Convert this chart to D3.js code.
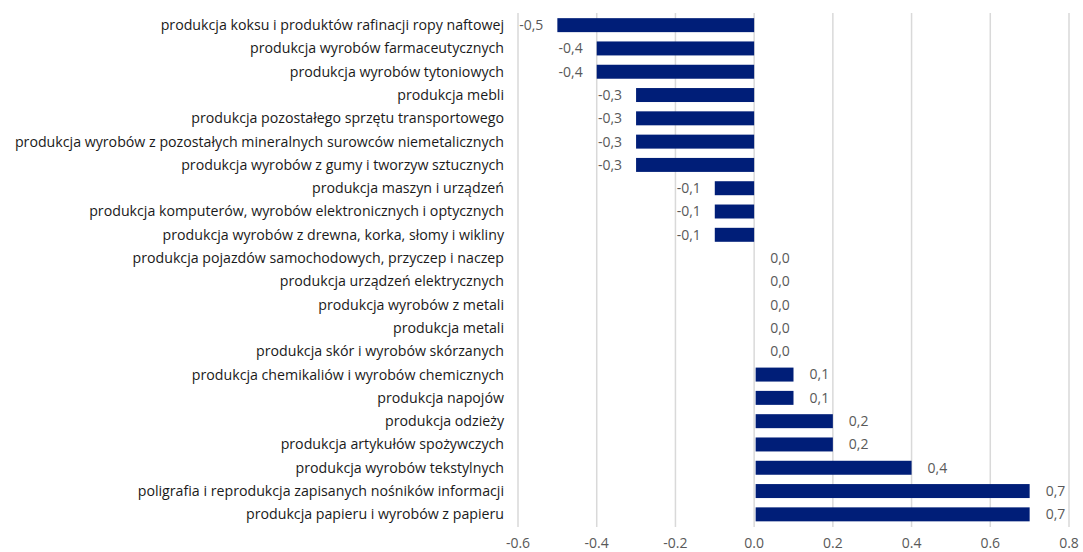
<!DOCTYPE html>
<html>
<head>
  <meta charset="utf-8">
  <script src="https://d3js.org/d3.v7.min.js"></script>
  <style>
    body { margin: 0; background: #fff; }
    text { font-family: "Open Sans", sans-serif; }
  </style>
</head>
<body>
  <script>
    // categories, top to bottom
    var categories = [
      "produkcja koksu i produktów rafinacji ropy naftowej",
      "produkcja wyrobów farmaceutycznych",
      "produkcja wyrobów tytoniowych",
      "produkcja mebli",
      "produkcja pozostałego sprzętu transportowego",
      "produkcja wyrobów z pozostałych mineralnych surowców niemetalicznych",
      "produkcja wyrobów z gumy i tworzyw sztucznych",
      "produkcja maszyn i urządzeń",
      "produkcja komputerów, wyrobów elektronicznych i optycznych",
      "produkcja wyrobów z drewna, korka, słomy i wikliny",
      "produkcja pojazdów samochodowych, przyczep i naczep",
      "produkcja urządzeń elektrycznych",
      "produkcja wyrobów z metali",
      "produkcja metali",
      "produkcja skór i wyrobów skórzanych",
      "produkcja chemikaliów i wyrobów chemicznych",
      "produkcja napojów",
      "produkcja odzieży",
      "produkcja artykułów spożywczych",
      "produkcja wyrobów tekstylnych",
      "poligrafia i reprodukcja zapisanych nośników informacji",
      "produkcja papieru i wyrobów z papieru"
    ];
    var values = [-0.5, -0.4, -0.4, -0.3, -0.3, -0.3, -0.3, -0.1, -0.1, -0.1,
                  0.0, 0.0, 0.0, 0.0, 0.0, 0.1, 0.1, 0.2, 0.2, 0.4, 0.7, 0.7];
    var xTicks = [-0.6, -0.4, -0.2, 0.0, 0.2, 0.4, 0.6, 0.8];

    var W = 1083, H = 552;
    var svg = d3.select("body").append("svg").attr("width", W).attr("height", H);

    var x = d3.scaleLinear().domain([-0.6, 0.8]).range([518, 1069]);
    var y = d3.scaleBand().domain(categories).range([13.5, 526]).paddingInner(0.4).paddingOuter(0.2);

    // gridlines
    svg.append("g").selectAll("line").data(xTicks).enter().append("line")
      .attr("x1", function (d) { return x(d); })
      .attr("x2", function (d) { return x(d); })
      .attr("y1", 13).attr("y2", 527)
      .attr("stroke", "#d9d9d9").attr("stroke-width", 1.5);

    // tick labels (x axis)
    svg.append("g").selectAll("text").data(xTicks).enter().append("text")
      .attr("x", function (d) { return x(d); })
      .attr("y", 543)
      .attr("dy", "0.35em")
      .attr("text-anchor", "middle")
      .attr("font-size", 14)
      .attr("fill", "#595959")
      .text(function (d) { return d.toFixed(1); });

    // bars
    svg.append("g").selectAll("rect").data(values).enter().append("rect")
      .attr("x", function (d) { return d < 0 ? x(d) : x(0) + 1.5; })
      .attr("y", function (d, i) { return y(categories[i]); })
      .attr("width", function (d) { return Math.max(0, Math.abs(x(d) - x(0)) - (d < 0 ? 0 : 1.5)); })
      .attr("height", y.bandwidth())
      .attr("fill", "#001e78");

    // category labels
    svg.append("g").selectAll("text").data(categories).enter().append("text")
      .attr("x", 504)
      .attr("y", function (d) { return y(d) + y.bandwidth() / 2; })
      .attr("dy", "0.35em")
      .attr("text-anchor", "end")
      .attr("font-size", 14.2)
      .attr("fill", "#1a1a1a")
      .text(function (d) { return d; });

    // data labels
    var fmt = function (v) { return v.toFixed(1).replace(".", ",").replace("-0,0", "0,0"); };
    svg.append("g").selectAll("text").data(values).enter().append("text")
      .attr("x", function (d) { return d < 0 ? x(d) - 14 : x(d) + 16; })
      .attr("y", function (d, i) { return y(categories[i]) + y.bandwidth() / 2; })
      .attr("dy", "0.35em")
      .attr("text-anchor", function (d) { return d < 0 ? "end" : "start"; })
      .attr("font-size", 14)
      .attr("fill", "#595959")
      .text(fmt);
  </script>
</body>
</html>
